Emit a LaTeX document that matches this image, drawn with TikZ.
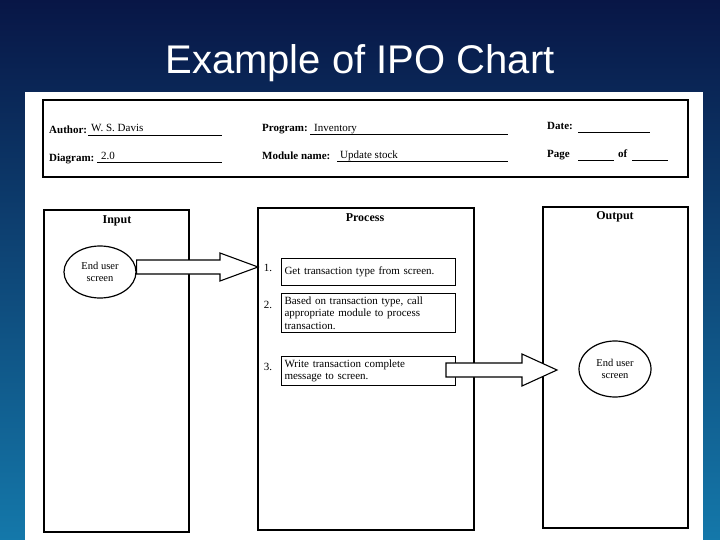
\documentclass[tikz,border=0pt]{standalone}
\usepackage{fontspec}
\setmainfont{Liberation Serif}
\newfontfamily\titlefont{Liberation Sans}
\usetikzlibrary{shapes.geometric}
\begin{document}
\begin{tikzpicture}[x=1pt,y=-1pt,
  frame/.style={draw,line width=1.6pt},
  stepbox/.style={draw,line width=1pt,anchor=north west,align=left,font=\fontsize{11}{12.5}\selectfont,inner sep=3pt,text width=168pt},
  lab/.style={font=\bfseries\fontsize{11}{12}\selectfont,anchor=base west,inner sep=0},
  val/.style={font=\fontsize{11}{12}\selectfont,anchor=base west,inner sep=0},
  fill line/.style={line width=0.7pt},
  blk/.style={draw,line width=1.1pt,fill=white,line join=miter},
  term/.style={draw,ellipse,line width=1.2pt,align=center,font=\fontsize{10.5}{12}\selectfont,inner sep=0pt}]
\useasboundingbox (0,0) rectangle (720,540);
\shade[top color={rgb,255:red,8;green,22;blue,70}, bottom color={rgb,255:red,20;green,120;blue,170}] (0,0) rectangle (720,540);
\node[font=\titlefont\fontsize{40}{44}\selectfont,text=white] (title) at (360,63) {Example of IPO Chart};
\fill[white] (25,92) rectangle (703,540);
% header
\draw[frame] (43,100) rectangle (688,177);
\node[lab] (a) at (49,134) {Author:};
\node[val] (av) at (91,132) {W. S. Davis};
\draw[fill line] (88,135) -- (222,135);
\node[lab] (d) at (49,162) {Diagram:};
\node[val] (dv) at (101,160) {2.0};
\draw[fill line] (97,162) -- (222,162);
\node[lab] (p) at (262,132) {Program:};
\node[val] (pv) at (314,132) {Inventory};
\draw[fill line] (310,134) -- (508,134);
\node[lab] (m) at (262,160) {Module name:};
\node[val] (mv) at (340,159) {Update stock};
\draw[fill line] (337,161) -- (508,161);
\node[lab] (dt) at (547,130) {Date:};
\draw[fill line] (578,132) -- (650,132);
\node[lab] (pg) at (547,158) {Page};
\draw[fill line] (578,160) -- (614,160);
\node[lab] (of) at (618,158) {of};
\draw[fill line] (632,160) -- (668,160);
% columns
\draw[frame] (44,210) rectangle (189,532);
\draw[frame] (258,208) rectangle (474,530);
\draw[frame] (543,207) rectangle (688,528);
\node[font=\bfseries\fontsize{12}{13}\selectfont] (in) at (117,221) {Input};
\node[font=\bfseries\fontsize{12}{13}\selectfont] (pr) at (365,218) {Process};
\node[font=\bfseries\fontsize{12}{13}\selectfont] (ou) at (615,217) {Output};
\node[term,minimum width=72pt,minimum height=52pt] (e1) at (100,272) {End user\\screen};
\node[term,minimum width=72pt,minimum height=56pt] (e2) at (615,369) {End user\\screen};
\node[stepbox,minimum height=27pt] (s1) at (281,258) {Get transaction type from screen.};
\node[stepbox] (s2) at (281,293) {Based on transaction type, call\\appropriate module to process\\transaction.};
\node[stepbox] (s3) at (281,356) {Write transaction complete\\message to screen.};
\node[font=\fontsize{11}{12}\selectfont] (n1) at (268,268) {1.};
\node[font=\fontsize{11}{12}\selectfont] (n2) at (268,305) {2.};
\node[font=\fontsize{11}{12}\selectfont] (n3) at (268,367) {3.};
\coordinate (t1) at (258,267);
\coordinate (t2) at (557,370);
\draw[blk] (e1.east |- 0,260) -- (220,260) -- (220,253) -- (t1) -- (220,281) -- (220,274) -- (e1.east |- 0,274) -- cycle;
\draw[blk] (446,363) -- (522,363) -- (522,354) -- (t2) -- (522,386) -- (522,377) -- (446,377) -- cycle;
\end{tikzpicture}
\end{document}
